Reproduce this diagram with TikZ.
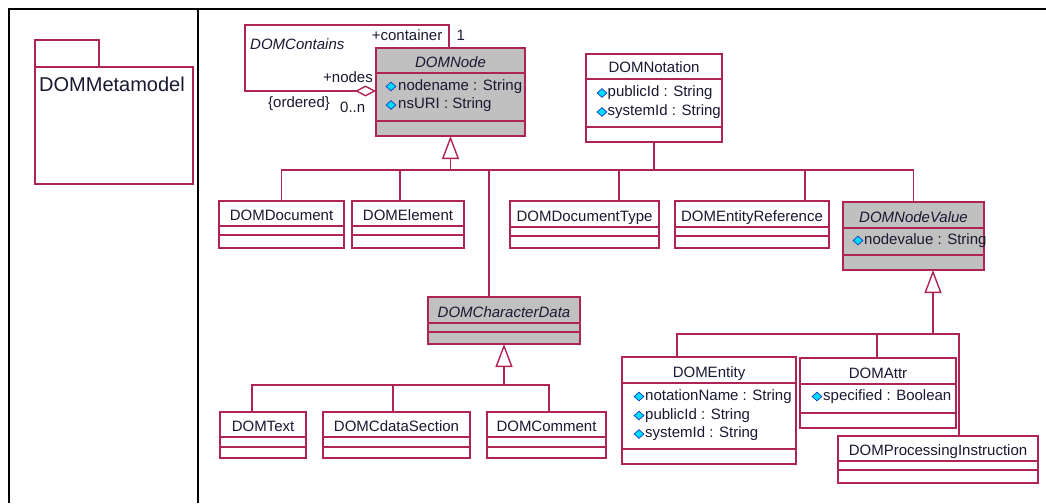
\documentclass[tikz,border=0pt]{standalone}
\usepackage{fontspec}
\setmainfont{Liberation Sans}
\usetikzlibrary{arrows.meta,calc,shapes.geometric}
\definecolor{umlred}{RGB}{175,35,85}
\definecolor{abstractgray}{RGB}{192,192,192}
\definecolor{txt}{RGB}{25,25,50}
\definecolor{iconfill}{RGB}{0,220,255}
\definecolor{iconline}{RGB}{20,60,200}
% class box: name, left, top, right, bottom, sep1, sep2, extra style
\newcommand\umlclass[8]{%
  \node[clsbox,#8,minimum width={#4-#2},minimum height={#5-#3}] (#1) at ({(#2+#4)/2},{(#3+#5)/2}) {};
  \draw[clsline] (#2,#6) -- (#4,#6) (#2,#7) -- (#4,#7);
}
\begin{document}
\begin{tikzpicture}[x=1pt,y=-1pt,
  clsbox/.style={draw=umlred, line width=1.4pt, inner sep=0pt, outer sep=0pt, fill=white},
  abstractbox/.style={fill=abstractgray},
  clsline/.style={draw=umlred, line width=1.4pt},
  clsname/.style={font=\fontsize{15}{18}\selectfont, text=txt, inner sep=0pt, anchor=base},
  absname/.style={clsname, font=\fontsize{15}{18}\selectfont\itshape},
  attrtext/.style={font=\fontsize{15}{18}\selectfont, text=txt, inner sep=0pt, anchor=base west},
  lbl/.style={font=\fontsize{15}{18}\selectfont, text=txt, inner sep=0pt},
  attricon/.style={diamond, draw=iconline, fill=iconfill, line width=0.7pt, minimum width=10pt, minimum height=9pt, inner sep=0pt},
  link/.style={draw=umlred, line width=1.4pt},
  gen/.style={link, -{Triangle[open, fill=white, length=23pt, width=17pt]}},
  agg/.style={link, {Diamond[open, fill=white, length=21pt, width=11pt]}-},
  frameline/.style={draw=black, line width=2pt}
]
\fill[white] (0,0) rectangle (1046,503);
\useasboundingbox (0,0) rectangle (1046,503);

% table frame
\draw[frameline] (8,9.5) -- (1046,9.5);
\draw[frameline] (8.5,9) -- (8.5,503);
\draw[frameline] (197.5,9) -- (197.5,503);

% package
\draw[clsline] (35,67) rectangle (193,184);
\draw[clsline] (35,67) -- (35,40) -- (99,40) -- (99,67);
\node[lbl, anchor=base west, font=\fontsize{20}{24}\selectfont] (pkg) at (39,91.5) {DOMMetamodel};

% classes
\umlclass{dnode}{376}{48}{525}{136}{73}{121}{abstractbox}
\umlclass{notation}{586}{54}{722}{142}{79}{127}{}
\umlclass{document}{219}{201}{344}{248}{226}{235}{}
\umlclass{element}{352}{201}{464}{248}{226}{235}{}
\umlclass{doctype}{510}{201}{659}{248}{227}{236}{}
\umlclass{entref}{675}{201}{829}{248}{227}{236}{}
\umlclass{nodevalue}{843}{202}{984}{270}{228}{255}{abstractbox}
\umlclass{chardata}{428}{297}{580}{344}{323}{332}{abstractbox}
\umlclass{dtext}{220}{412}{306}{458}{437}{447}{}
\umlclass{cdata}{323}{412}{470}{458}{437}{447}{}
\umlclass{comment}{487}{412}{606}{458}{437}{447}{}
\umlclass{entity}{622}{357}{796}{464}{383}{449}{}
\umlclass{domattr}{800}{358}{956}{428}{384}{413}{}
\umlclass{procinstr}{838}{436}{1038}{483}{461}{470}{}

% class names
\node[absname] (dnode-n) at (450.5,67) {DOMNode};
\node[clsname] (notation-n) at (654,73) {DOMNotation};
\node[clsname] (document-n) at (281.5,220) {DOMDocument};
\node[clsname] (element-n) at (408,220) {DOMElement};
\node[clsname] (doctype-n) at (584.5,221) {DOMDocumentType};
\node[clsname] (entref-n) at (752,221) {DOMEntityReference};
\node[absname] (nodevalue-n) at (913.5,222) {DOMNodeValue};
\node[absname] (chardata-n) at (504,317) {DOMCharacterData};
\node[clsname] (dtext-n) at (263,431) {DOMText};
\node[clsname] (cdata-n) at (396.5,431) {DOMCdataSection};
\node[clsname] (comment-n) at (546.5,431) {DOMComment};
\node[clsname] (entity-n) at (709,377) {DOMEntity};
\node[clsname] (domattr-n) at (878,378) {DOMAttr};
\node[clsname] (procinstr-n) at (938,455) {DOMProcessingInstruction};

% attributes
\node[attricon] (i1) at (391,86.5) {};
\node[attrtext] (a1) at (398,90) {nodename : String};
\node[attricon] (i2) at (391,105) {};
\node[attrtext] (a2) at (398,108.5) {nsURI : String};
\node[attricon] (i3) at (602,93) {};
\node[attrtext] (a3) at (607.5,96.5) {publicId : String};
\node[attricon] (i4) at (602,112) {};
\node[attrtext] (a4) at (607.5,115.5) {systemId : String};
\node[attricon] (i5) at (858,240.5) {};
\node[attrtext] (a5) at (864,244) {nodevalue : String};
\node[attricon] (i6) at (639,396.5) {};
\node[attrtext] (a6) at (645,400) {notationName : String};
\node[attricon] (i7) at (639,415.5) {};
\node[attrtext] (a7) at (645,419) {publicId : String};
\node[attricon] (i8) at (639,434) {};
\node[attrtext] (a8) at (645,437.5) {systemId : String};
\node[attricon] (i9) at (817,396.5) {};
\node[attrtext] (a9) at (823,400) {specified : Boolean};

% DOMContains self-association
\coordinate (contEnd) at (449,48);
\coordinate (asTL) at (245,25);
\coordinate (asBL) at (245,91);
\coordinate (nodesEnd) at (376,91);
\draw[agg] (nodesEnd) -- (asBL) -- (asTL) -| (contEnd);
\node[lbl, anchor=base west, font=\fontsize{15}{18}\selectfont\itshape] (assocname) at (250,50) {DOMContains};
\node[lbl, anchor=base east] (rolecont) at (442.5,40.7) {+container};
\node[lbl, anchor=base west] (multcont) at (456.5,40.7) {1};
\node[lbl, anchor=base east] (rolenodes) at (373,82.7) {+nodes};
\node[lbl, anchor=base west] (ordered) at (268,107) {\{ordered\}};
\node[lbl, anchor=base west] (multnodes) at (340,112.5) {0..n};

% generalization to DOMNode
\coordinate (g1) at (450.5,170);
\coordinate (elT) at (400,201);
\coordinate (cdT) at (489,297);
\coordinate (dtT) at (619,201);
\coordinate (erT) at (805,201);
\draw[gen] (g1) -- (dnode.south);
\draw[link] (document.north) |- (g1);
\draw[link] (elT) |- (g1);
\draw[link] (cdT) |- (g1);
\draw[link] (dtT) |- (g1);
\draw[link] (erT) |- (g1);
\draw[link] (nodevalue.north) |- (g1);
\draw[link] (notation.south) |- (g1);

% generalization to DOMNodeValue
\coordinate (g2) at (933,334);
\coordinate (nvB) at (933,270);
\coordinate (entT) at (677,357);
\coordinate (atT) at (877,358);
\coordinate (piT) at (959,436);
\draw[gen] (g2) -- (nvB);
\draw[link] (entT) |- (g2);
\draw[link] (atT) |- (g2);
\draw[link] (piT) |- (g2);

% generalization to DOMCharacterData
\coordinate (g3) at (504,385);
\coordinate (txT) at (252,412);
\coordinate (cdsT) at (393,412);
\coordinate (cmT) at (549,412);
\draw[gen] (g3) -- (chardata.south);
\draw[link] (txT) |- (g3);
\draw[link] (cdsT) |- (g3);
\draw[link] (cmT) |- (g3);
\end{tikzpicture}
\end{document}
